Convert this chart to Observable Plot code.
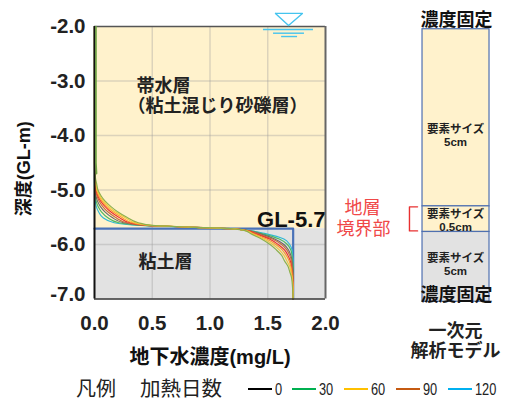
<!DOCTYPE html>
<html lang="ja">
<head>
<meta charset="utf-8">
<script src="https://cdn.jsdelivr.net/npm/d3@7"></script>
<script src="https://cdn.jsdelivr.net/npm/@observablehq/plot@0.6"></script>
<style>
html,body{margin:0;padding:0;background:#fff;overflow:hidden}
svg{display:block;overflow:visible}
#legend{position:relative;height:26px;font-family:"Liberation Sans","Noto Sans CJK JP",sans-serif;color:#222}
#legend span{position:absolute;top:0;line-height:26px;white-space:nowrap}
#legend i{position:absolute;top:14px;height:2px;display:block}
</style>
</head>
<body>
<div id="chart"></div>
<div id="legend"></div>
<script>
const xTicks = [0, 0.5, 1, 1.5, 2];
const yTicks = [-2, -3, -4, -5, -6, -7];
const depths = [-2, -4.5, -4.7, -4.8, -4.9, -5, -5.1, -5.2, -5.3, -5.4, -5.5, -5.6, -5.65, -5.68, -5.71,
  -5.75, -5.8, -5.9, -6, -6.1, -6.2, -6.3, -6.4, -6.5, -6.6, -6.8, -7];

const cyan   = [0,0,0,0,0,0,.002,.006,.015,.035,.07,.17,.40,.80,1.18, 1.36,1.48,1.64,1.69,1.71,1.715,1.72,1.72,1.72,1.72,1.72,1.72];
const green  = [0,0,0,0,0,.002,.006,.014,.03,.06,.11,.21,.42,.80,1.18, 1.35,1.45,1.60,1.67,1.70,1.71,1.715,1.72,1.72,1.72,1.72,1.72];
const gray   = [0,0,0,0,.001,.004,.012,.025,.05,.09,.15,.25,.44,.81,1.18, 1.34,1.43,1.56,1.64,1.68,1.70,1.71,1.715,1.72,1.72,1.72,1.72];
const brown  = [0,0,0,0,.003,.008,.02,.04,.07,.115,.18,.28,.45,.81,1.18, 1.335,1.41,1.54,1.62,1.665,1.69,1.705,1.71,1.715,1.72,1.72,1.72];
const red    = [0,0,.001,.003,.006,.013,.028,.052,.09,.14,.21,.31,.46,.82,1.18, 1.33,1.39,1.515,1.59,1.645,1.675,1.695,1.705,1.71,1.715,1.72,1.72];
const orange = [0,0,.002,.005,.01,.018,.036,.064,.105,.16,.235,.33,.47,.82,1.18, 1.32,1.375,1.49,1.57,1.625,1.66,1.685,1.70,1.708,1.713,1.72,1.72];
const yellow = [0,0,.003,.007,.014,.024,.045,.077,.122,.18,.26,.355,.485,.83,1.18, 1.315,1.36,1.465,1.545,1.60,1.64,1.665,1.69,1.70,1.71,1.718,1.72];
const olive  = [0,0,.005,.01,.02,.03,.055,.09,.14,.20,.28,.38,.50,.83,1.18, 1.31,1.35,1.445,1.52,1.575,1.62,1.645,1.675,1.69,1.705,1.715,1.72];

const curves = [
  ["cyan", cyan, "#2fb9d6"], ["green", green, "#4fb860"], ["gray", gray, "#6a6a6a"],
  ["brown", brown, "#c5703a"], ["red", red, "#ee3030"], ["orange", orange, "#f7a030"],
  ["yellow", yellow, "#f2c83a"], ["olive", olive, "#8db04c"]
];

const maxConc = 1.72, boundary = -5.71, topDepth = -2, bottomDepth = -7;

const annotations = [
  {x: .364, y: -3.103, t: "帯水層", s: 18, w: 700, a: "start", c: "#222"},
  {x: .286, y: -3.47,  t: "（粘土混じり砂礫層）", s: 18, w: 700, a: "start", c: "#222"},
  {x: .381, y: -6.32,  t: "粘土層", s: 18, w: 700, a: "start", c: "#222"},
  {x: 2.0,  y: -5.548, t: "GL-5.7", s: 22, w: 700, a: "end", c: "#111"},
  {x: 1.0,  y: -8.066, t: "地下水濃度(mg/L)", s: 20, w: 700, a: "middle", c: "#111"},
  {x: 3.134, y: -1.89,  t: "濃度固定", s: 18, w: 700, a: "middle", c: "#111"},
  {x: 3.134, y: -6.926, t: "濃度固定", s: 18, w: 700, a: "middle", c: "#111"},
  {x: 3.126, y: -7.588, t: "一次元", s: 18, w: 700, a: "middle", c: "#222"},
  {x: 3.126, y: -7.956, t: "解析モデル", s: 18, w: 700, a: "middle", c: "#222"},
  {x: 3.126, y: -3.893, t: "要素サイズ", s: 11.5, w: 700, a: "middle", c: "#222"},
  {x: 3.126, y: -4.132, t: "5cm", s: 11.5, w: 700, a: "middle", c: "#222"},
  {x: 3.126, y: -5.438, t: "要素サイズ", s: 11.5, w: 700, a: "middle", c: "#222"},
  {x: 3.126, y: -5.676, t: "0.5cm", s: 11.5, w: 700, a: "middle", c: "#222"},
  {x: 3.126, y: -6.246, t: "要素サイズ", s: 11.5, w: 700, a: "middle", c: "#222"},
  {x: 3.126, y: -6.485, t: "5cm", s: 11.5, w: 700, a: "middle", c: "#222"},
  {x: 2.32, y: -5.327, t: "地層", s: 18, w: 400, a: "middle", c: "#f04848"},
  {x: 2.33, y: -5.713, t: "境界部", s: 18, w: 400, a: "middle", c: "#f04848"}
];

const colX = [2.84, 3.42];
const colLayers = [[-2.05, -5.3, "#fff2cc"], [-5.3, -5.77, "#fff2cc"], [-5.77, -7.05, "#e2e2e2"]];
const bracket = [[2.797, -5.309], [2.727, -5.309], [2.727, -5.75], [2.797, -5.75]];
const waterTriangle = [[1.567, -1.76], [1.80, -1.76], [1.68, -1.98], [1.567, -1.76]];
const waterLines = [[1.463, 1.896, -2.055], [1.55, 1.818, -2.123], [1.62, 1.758, -2.184]];

const legendItems = [["0", "#000000", 248], ["30", "#00b050", 292], ["60", "#ffc000", 344], ["90", "#c55a11", 396], ["120", "#00b0f0", 448]];

const fontFamily = '"Liberation Sans","Noto Sans CJK JP",sans-serif';
const bands = [
  {x1: 0, x2: 2, y1: topDepth, y2: boundary, fill: "#fff2cc"},
  {x1: 0, x2: 2, y1: boundary, y2: bottomDepth, fill: "#e2e2e2"}
];
const rows = depths.map((d, i) => i);
const tickLabel = d => d.toFixed(1);
const yAxisStyle = {tickSize: 0, tickPadding: 9, fontSize: 20.5, fontWeight: 700, fill: "#222", tickFormat: tickLabel, label: null};

const plot = Plot.plot({
  width: 515, height: 374,
  marginLeft: 94, marginRight: 190, marginTop: 26, marginBottom: 75.5,
  style: {fontFamily, background: "#fff"},
  x: {domain: [0, 2]},
  y: {domain: [-7, -2]},
  marks: [
    Plot.rect(bands, {x1: "x1", x2: "x2", y1: "y1", y2: "y2", fill: "fill"}),
    Plot.ruleX(xTicks.slice(1, -1), {stroke: "#9a9a9a", strokeOpacity: 0.35, strokeWidth: 1.5}),
    Plot.ruleY(yTicks.slice(1, -1), {stroke: "#9a9a9a", strokeOpacity: 0.35, strokeWidth: 1.5}),
    Plot.line([[0, boundary], [maxConc, boundary], [maxConc, bottomDepth]], {stroke: "#4a72b8", strokeWidth: 2.2}),
    ...curves.map(([name, values, color]) =>
      Plot.line(rows, {x: i => values[i], y: i => depths[i], stroke: color, strokeWidth: 1.15, curve: "monotone-y"})),
    Plot.ruleY([topDepth], {stroke: "#555", strokeWidth: 1.5}),
    Plot.ruleY([bottomDepth], {stroke: "#333", strokeWidth: 1.5}),
    Plot.ruleX([2], {stroke: "#666", strokeWidth: 2}),
    Plot.ruleX([0], {stroke: "#111", strokeWidth: 2}),
    Plot.line(rows.slice(0, 3), {x: i => olive[i], y: i => depths[i], stroke: "#6fa544", strokeWidth: 1.6, dx: 1.5}),
    Plot.axisX(xTicks, {tickSize: 0, tickPadding: 16, fontSize: 20.5, fontWeight: 700, fill: "#222", tickFormat: tickLabel, label: null}),
    Plot.axisY(yTicks.slice(0, -1), yAxisStyle),
    Plot.axisY(yTicks.slice(-1), {...yAxisStyle, dy: -5}),
    Plot.text(["深度(GL-m)"], {x: -0.606, y: -4.61, text: d => d, rotate: -90, fontSize: 18, fontWeight: 700, fill: "#111"}),
    Plot.line(waterTriangle, {x: d => d[0], y: d => d[1], stroke: "#45c4ee", strokeWidth: 1.4}),
    Plot.ruleY(waterLines, {x1: d => d[0], x2: d => d[1], y: d => d[2], stroke: "#45c4ee", strokeWidth: 1.4}),
    Plot.rect(colLayers, {x1: colX[0], x2: colX[1], y1: d => d[0], y2: d => d[1], fill: d => d[2], stroke: "#4f70b0", strokeWidth: 1.2}),
    Plot.line(bracket, {x: d => d[0], y: d => d[1], stroke: "#e83030", strokeWidth: 1.4}),
    ...annotations.map(d => Plot.text([d], {x: "x", y: "y", text: "t", fontSize: d.s, fontWeight: d.w, textAnchor: d.a, fill: d.c}))
  ]
});
document.getElementById("chart").append(plot);

const legend = document.getElementById("legend");
const add = (text, left, extra) => {
  const s = document.createElement("span");
  s.textContent = text;
  s.style.cssText = extra + "left:" + left + "px;";
  legend.append(s);
};
add("凡例", 76, "font-size:20px;top:2px;");
add("加熱日数", 140, "font-size:20.5px;top:2px;");
legendItems.forEach(([label, color, left]) => {
  const i = document.createElement("i");
  i.style.left = left + "px"; i.style.width = "24px"; i.style.background = color;
  legend.append(i);
  add(label, left + 27, "font-size:16px;top:3px;transform:scaleX(.8);transform-origin:left center;");
});
</script>
</body>
</html>
